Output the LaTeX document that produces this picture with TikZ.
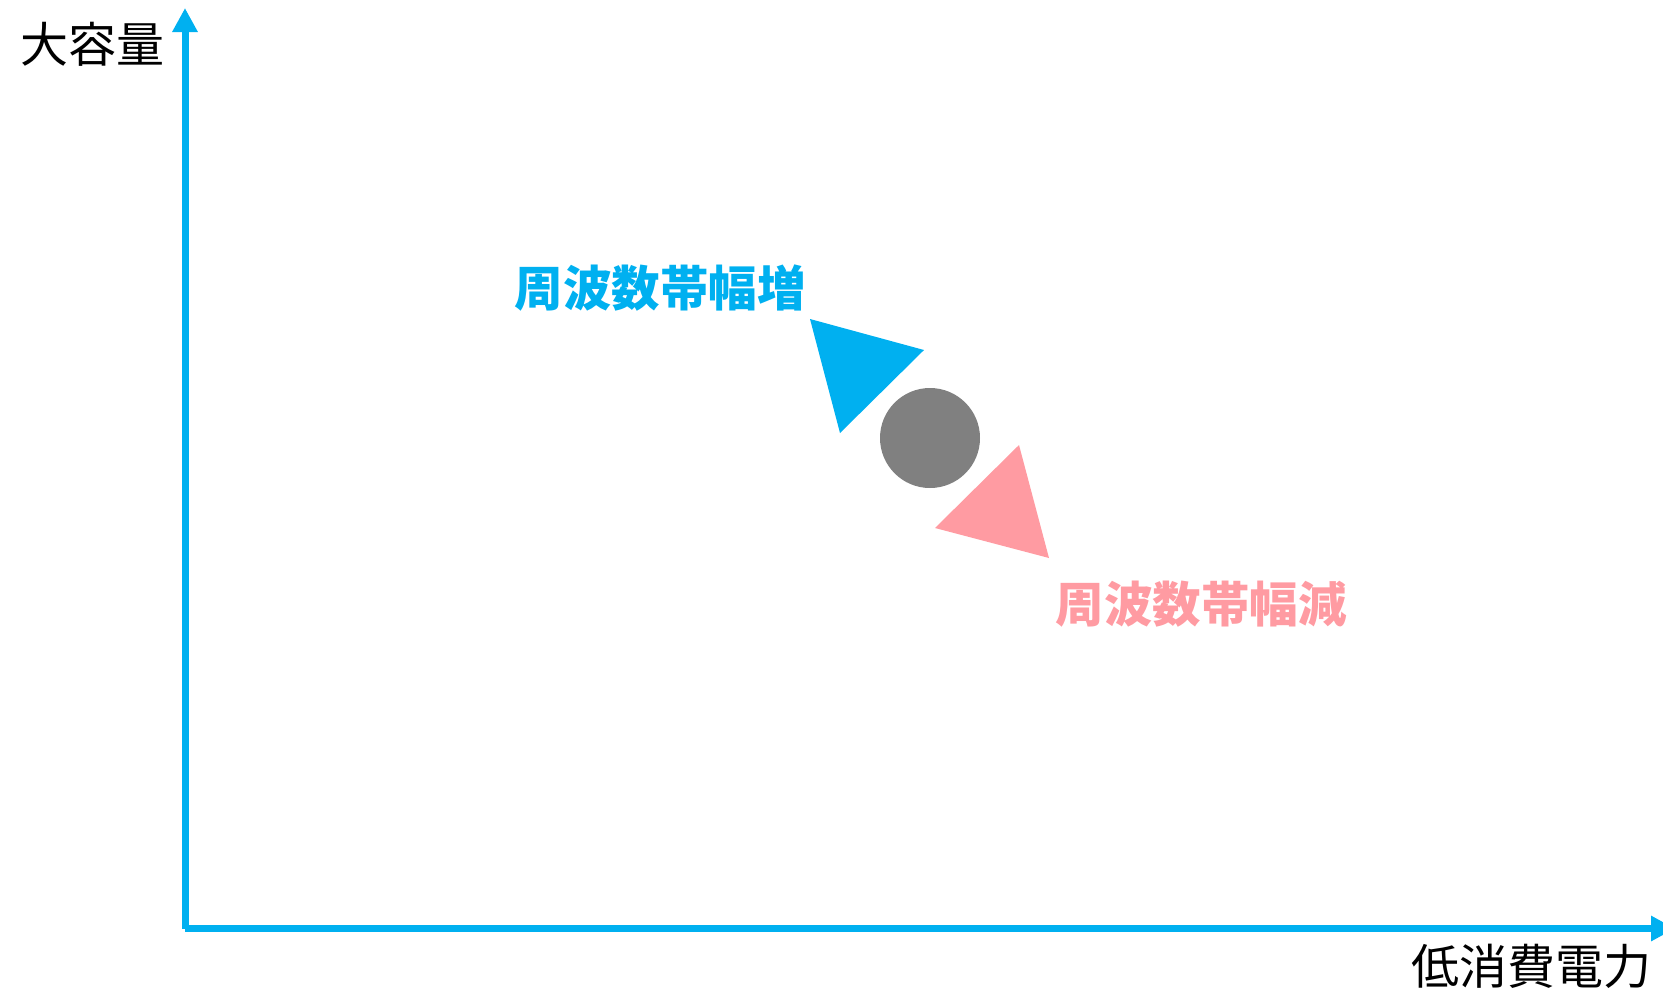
\documentclass[tikz,border=0pt]{standalone}
\usepackage{fontspec}
\newfontfamily\jp{Noto Sans CJK JP}
\usetikzlibrary{arrows.meta}
\definecolor{axisblue}{HTML}{00B0F0}
\definecolor{pinkc}{HTML}{FF9BA2}
\definecolor{grayc}{HTML}{808080}
\tikzset{
  axis/.style={draw=axisblue, line width=7pt, -{Triangle[width=24pt,length=24pt]}},
  axislabel/.style={font=\jp\fontsize{48}{48}\selectfont, text=black, inner sep=0pt},
  uplabel/.style={font=\jp\bfseries\fontsize{48.5}{48.5}\selectfont, text=axisblue, inner sep=0pt},
  downlabel/.style={font=\jp\bfseries\fontsize{48.5}{48.5}\selectfont, text=pinkc, inner sep=0pt}
}
\begin{document}
\begin{tikzpicture}[x=1pt,y=-1pt]
\useasboundingbox (0,0) rectangle (1663,989);
\clip (0,0) rectangle (1663,989);
\coordinate (O) at (185,928.5);
\coordinate (Ytip) at (185,8);
\coordinate (Xtip) at (1675,928.5);
\draw[axis] (O) -- (Ytip);
\draw[axis] (O) -- (Xtip);
\node[axislabel] (ylab) at (92,44) {大容量};
\node[axislabel] (xlab) at (1531,966) {低消費電力};
\node[uplabel] (up) at (660,288) {周波数帯幅増};
\node[downlabel] (down) at (1201,604) {周波数帯幅減};
\coordinate (b1) at (810,319);
\coordinate (b2) at (924,350);
\coordinate (b3) at (840,433);
\fill[axisblue] (b1) -- (b2) -- (b3) -- cycle;
\coordinate (p1) at (1019,445);
\coordinate (p2) at (1049,558);
\coordinate (p3) at (935,528);
\fill[pinkc] (p1) -- (p2) -- (p3) -- cycle;
\node[circle, fill=grayc, minimum size=100pt, inner sep=0pt] (dot) at (930,438) {};
\end{tikzpicture}
\end{document}
